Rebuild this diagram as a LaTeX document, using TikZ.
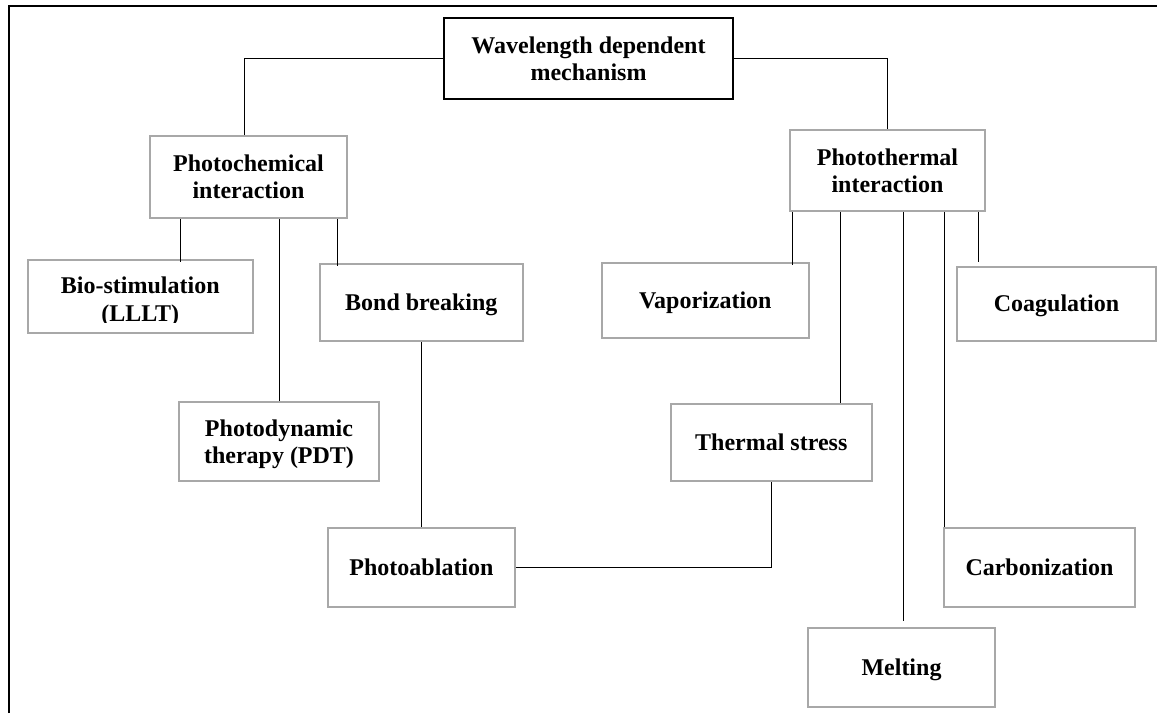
\documentclass[tikz,border=0pt]{standalone}
\usepackage{fontspec}
\setmainfont{Liberation Serif}
\definecolor{boxgray}{HTML}{A8A8A8}
\begin{document}
\begin{tikzpicture}[x=1pt,y=-1pt,
  box/.style={draw=boxgray, line width=2pt, inner sep=0pt, align=center,
    font=\fontsize{24}{27.3}\selectfont\bfseries},
  one/.style={text height=15.9pt, text depth=0pt},
  two/.style={text depth=0pt},
  txt/.style={inner sep=0pt, font=\fontsize{24}{27.3}\selectfont\bfseries},
  conn/.style={line width=1pt, black}]
\useasboundingbox (0,0) rectangle (1157,713);
\draw[line width=2pt] (8.5,713) -- (8.5,5.7) -- (1157,5.7);

% nodes
\node[box, draw=black, line width=2.5pt, two, minimum width=289pt, minimum height=81pt] (main) at (588.5,58.5) {Wavelength dependent\\mechanism};
\node[box, two, minimum width=197pt, minimum height=82pt] (pc) at (248.5,177) {Photochemical\\interaction};
\node[box, two, minimum width=195pt, minimum height=81pt] (pt) at (887.5,170.5) {Photothermal\\interaction};
\node[box, minimum width=225pt, minimum height=73pt] (bio) at (140.25,296.5) {};
\begin{scope}
  \clip (bio.north west) rectangle ([yshift=12pt]bio.south east);
  \node[txt, anchor=base] (biol1) at (140.25,293) {Bio-stimulation};
  \node[txt, anchor=base] (biol2) at (140.25,321.3) {(LLLT)};
\end{scope}
\node[box, one, minimum width=203pt, minimum height=77pt] (bond) at (421.3,302.5) {Bond breaking};
\node[box, two, minimum width=200pt, minimum height=79pt] (pdt) at (279,441.5) {Photodynamic\\therapy (PDT)};
\node[box, one, minimum width=187pt, minimum height=79pt] (abl) at (421.5,567.5) {Photoablation};
\node[box, one, minimum width=206.6pt, minimum height=75pt] (vap) at (705.3,300.5) {Vaporization};
\node[box, one, minimum width=199pt, minimum height=74pt] (coag) at (1056.5,304) {Coagulation};
\node[box, one, minimum width=200.5pt, minimum height=77pt] (ts) at (771.25,442.5) {Thermal stress};
\node[box, one, minimum width=191pt, minimum height=79pt] (carb) at (1039.5,567.5) {Carbonization};
\node[box, one, minimum width=187pt, minimum height=79pt] (melt) at (901.5,667.5) {Melting};

% connectors
\draw[conn] (main.west) -| ([xshift=-4.5pt]pc.north);
\draw[conn] (main.east) -| (pt.north);
\draw[conn] ([xshift=-68.5pt]pc.south) -- ([xshift=-68.5pt,yshift=-3pt]pc.south |- bio.north);
\draw[conn] (pc.south -| pdt.north) -- (pdt.north);
\draw[conn] ([xshift=88.5pt]pc.south) -- ([xshift=88.5pt,yshift=-2.5pt]pc.south |- bond.north);
\draw[conn] (bond.south) -- (bond.south |- abl.north);
\draw[conn] (abl.east) -| (ts.south);
\draw[conn] ([xshift=-94.8pt]pt.south) -- ([xshift=-94.8pt,yshift=-3pt]pt.south |- vap.north);
\draw[conn] ([xshift=-46.8pt]pt.south) -- ([xshift=-46.8pt]pt.south |- ts.north);
\draw[conn] ([xshift=16.2pt]pt.south) -- ([xshift=16.2pt,yshift=6pt]pt.south |- melt.north);
\draw[conn] ([xshift=57.2pt]pt.south) -- ([xshift=57.2pt]pt.south |- carb.north);
\draw[conn] ([xshift=91.2pt]pt.south) -- ([xshift=91.2pt,yshift=4pt]pt.south |- coag.north);
\end{tikzpicture}
\end{document}
